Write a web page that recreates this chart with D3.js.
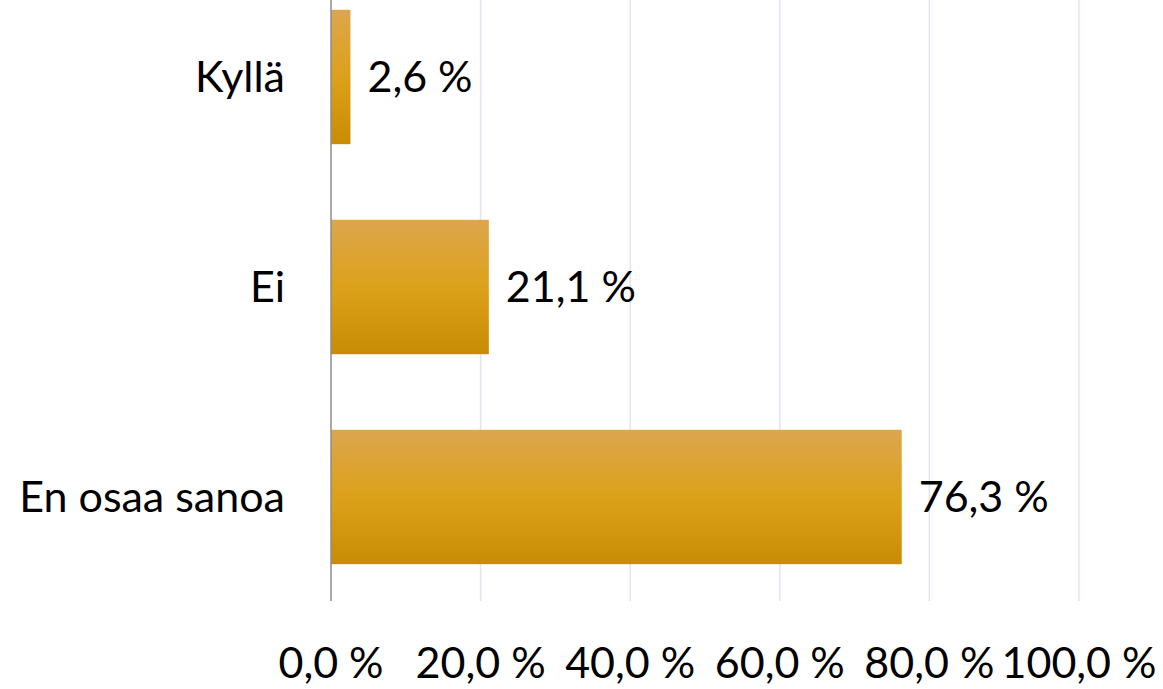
<!DOCTYPE html>
<html lang="fi">
<head>
<meta charset="utf-8">
<script src="https://cdn.jsdelivr.net/npm/d3@7"></script>
<style>
  body { margin: 0; background: #fff; }
  text { font-family: Lato, "Open Sans", sans-serif; fill: #000; }
</style>
</head>
<body>
<script>
const categories = ["Kyllä", "Ei", "En osaa sanoa"];
const values = [2.6, 21.1, 76.3];
const ticks = [0, 20, 40, 60, 80, 100];

const width = 1163, height = 689;
const fmt = v => v.toFixed(1).replace(".", ",") + " %";

const svg = d3.select("body").append("svg")
  .attr("width", width).attr("height", height);

const defs = svg.append("defs");
const grad = defs.append("linearGradient")
  .attr("id", "gold").attr("x1", 0).attr("y1", 0).attr("x2", 0).attr("y2", 1);
grad.append("stop").attr("offset", "0%").attr("stop-color", "#dca64e");
grad.append("stop").attr("offset", "50%").attr("stop-color", "#dca11a");
grad.append("stop").attr("offset", "100%").attr("stop-color", "#c98c04");

const x = d3.scaleLinear().domain([0, 100]).range([331, 1079]);
const y = d3.scaleBand().domain(categories).range([-28, 602]).paddingInner(0.36).paddingOuter(0.18);

// gridlines
svg.append("g").selectAll("line")
  .data(ticks.slice(1))
  .join("line")
  .attr("x1", d => x(d)).attr("x2", d => x(d))
  .attr("y1", 0).attr("y2", 601)
  .attr("stroke", "#dfe6f1").attr("stroke-width", 1.5);

// bars
svg.append("g").selectAll("rect")
  .data(values)
  .join("rect")
  .attr("x", x(0))
  .attr("y", (d, i) => y(categories[i]))
  .attr("width", d => x(d) - x(0))
  .attr("height", y.bandwidth())
  .attr("fill", "url(#gold)");

// axis line
svg.append("line")
  .attr("x1", x(0)).attr("x2", x(0))
  .attr("y1", 0).attr("y2", 601)
  .attr("stroke", "#8c8c8c").attr("stroke-width", 1.5);

// category labels
svg.append("g").selectAll("text")
  .data(categories)
  .join("text")
  .attr("x", 285)
  .attr("y", d => y(d) + y.bandwidth() / 2)
  .attr("dy", "0.35em")
  .attr("text-anchor", "end")
  .attr("font-size", 43)
  .text(d => d);

// value labels
svg.append("g").selectAll("text")
  .data(values)
  .join("text")
  .attr("x", d => x(d) + 17)
  .attr("y", (d, i) => y(categories[i]) + y.bandwidth() / 2)
  .attr("dy", "0.35em")
  .attr("font-size", 43)
  .text(d => fmt(d));

// tick labels
svg.append("g").selectAll("text")
  .data(ticks)
  .join("text")
  .attr("x", d => x(d))
  .attr("y", 663)
  .attr("dy", "0.35em")
  .attr("text-anchor", "middle")
  .attr("font-size", 43)
  .text(d => fmt(d));
</script>
</body>
</html>
